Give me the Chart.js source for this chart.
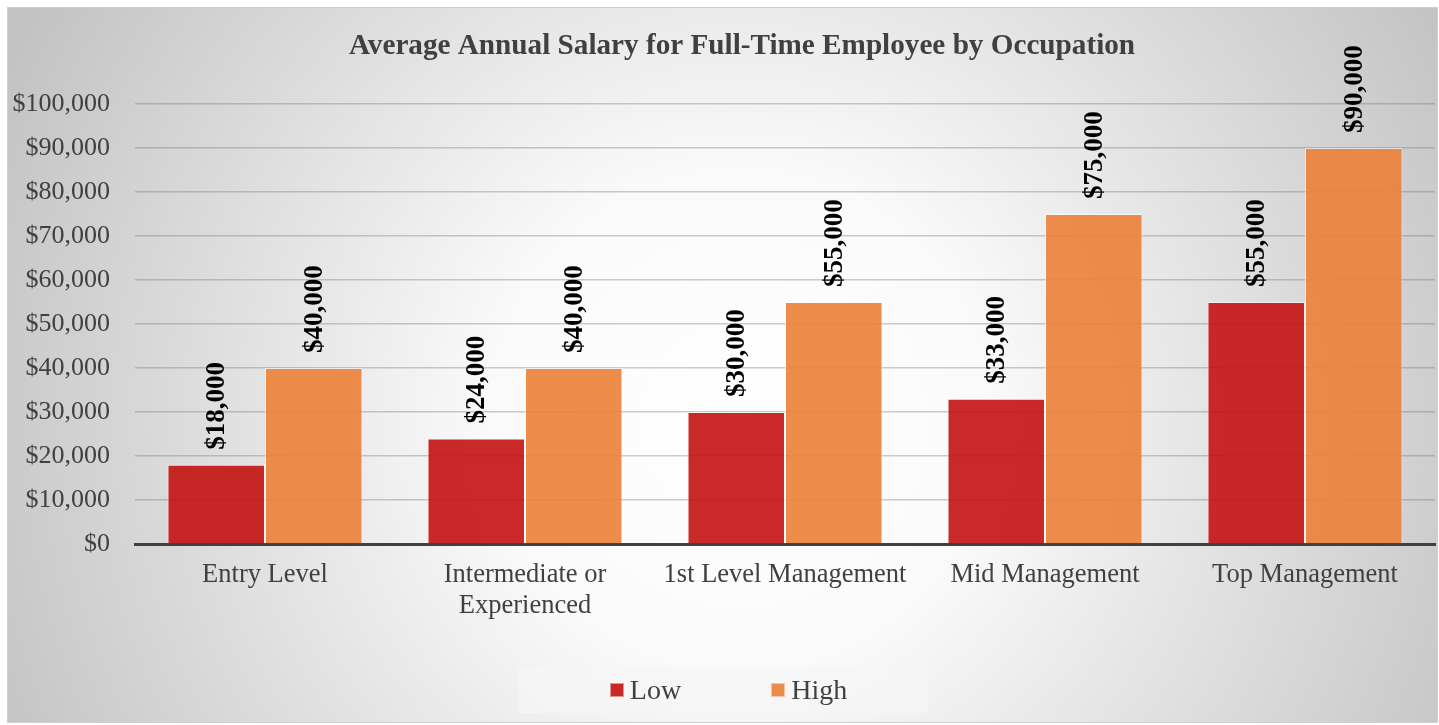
<!DOCTYPE html>
<html>
<head>
<meta charset="utf-8">
<script src="https://cdn.jsdelivr.net/npm/chart.js@4"></script>
<style>
    body { margin: 0; background: #ffffff; }
    #wrap { position: relative; width: 1439px; height: 725px; }
    #legend {
        position: absolute; left: 519px; top: 667px; width: 399px; height: 46px; padding-left: 10px;
        background: rgba(246, 246, 246, 0.75);
        display: flex; align-items: center; justify-content: center;
        font-family: "Liberation Serif", "Times New Roman", serif; font-size: 28px; color: #404040;
    }
    #legend .item { display: flex; align-items: center; }
    #legend .item + .item { margin-left: 90px; }
    #legend .box { width: 12px; height: 12px; margin-right: 6px; border: 1px solid rgba(255,255,255,0.5); }
</style>
</head>
<body>
<div id="wrap">
    <canvas id="myChart" width="1439" height="725"></canvas>
    <div id="legend"></div>
</div>
<script>
var categories = ['Entry Level', ['Intermediate or', 'Experienced'], '1st Level Management', 'Mid Management', 'Top Management'];
var lowValues = [18000, 24000, 30000, 33000, 55000];
var highValues = [40000, 40000, 55000, 75000, 90000];
var seriesNames = ['Low', 'High'];
var yTicksMax = 100000;
var yTicksStep = 10000;

var serif = '"Liberation Serif", "Times New Roman", serif';

function money(v) {
    return '$' + Number(v).toLocaleString('en-US');
}

// chart box with the radial grey background
var backgroundPlugin = {
    id: 'boxBackground',
    afterLayout: function(chart) {
        // title sits a bit right of the canvas centre
        if (chart.titleBlock) {
            chart.titleBlock.left = 49;
        }
    },
    beforeDraw: function(chart) {
        var c = chart.ctx;
        c.save();
        c.fillStyle = '#ffffff';
        c.fillRect(0, 0, chart.width, chart.height);
        var g = c.createRadialGradient(740, 420, 0, 740, 420, 820);
        g.addColorStop(0, '#ffffff');
        g.addColorStop(0.3, '#fafafa');
        g.addColorStop(1, '#c2c2c2');
        c.fillStyle = g;
        c.fillRect(7, 7, chart.width - 9, chart.height - 10);
        c.strokeStyle = '#cfcfcf';
        c.lineWidth = 1;
        c.strokeRect(7.5, 7.5, chart.width - 9, chart.height - 10);
        c.restore();
    }
};

// values written upright above each bar
var valueLabels = {
    id: 'valueLabels',
    afterDatasetsDraw: function(chart) {
        var c = chart.ctx;
        c.save();
        c.font = 'bold 27px ' + serif;
        c.fillStyle = '#000000';
        c.textAlign = 'left';
        c.textBaseline = 'middle';
        chart.data.datasets.forEach(function(ds, i) {
            chart.getDatasetMeta(i).data.forEach(function(bar, j) {
                c.save();
                c.translate(bar.x, bar.y - 15);
                c.rotate(-Math.PI / 2);
                c.fillText(money(ds.data[j]), 0, 1);
                c.restore();
            });
        });
        c.restore();
    }
};

var htmlLegend = {
    id: 'htmlLegend',
    afterUpdate: function(chart) {
        var box = document.getElementById('legend');
        box.innerHTML = '';
        chart.options.plugins.legend.labels.generateLabels(chart).forEach(function(item) {
            var el = document.createElement('div');
            el.className = 'item';
            var sw = document.createElement('span');
            sw.className = 'box';
            sw.style.background = item.fillStyle;
            var tx = document.createElement('span');
            tx.textContent = item.text;
            el.appendChild(sw);
            el.appendChild(tx);
            box.appendChild(el);
        });
    }
};

var ctx = document.getElementById('myChart');
var myChart = new Chart(ctx, {
    type: 'bar',
    data: {
        labels: categories,
        datasets: [{
            label: seriesNames[0],
            data: lowValues,
            backgroundColor: 'rgba(196, 18, 18, 0.9)',
            borderColor: 'rgba(255, 255, 255, 0.55)',
            borderWidth: 1
        }, {
            label: seriesNames[1],
            data: highValues,
            backgroundColor: 'rgba(235, 128, 55, 0.9)',
            borderColor: 'rgba(255, 255, 255, 0.55)',
            borderWidth: 1
        }]
    },
    options: {
        responsive: false,
        animation: false,
        categoryPercentage: 0.75,
        barPercentage: 1.0,
        layout: {
            padding: { left: 0, right: 4, top: 0, bottom: 0 }
        },
        plugins: {
            legend: { display: false },
            tooltip: { enabled: false },
            title: {
                display: true,
                text: 'Average Annual Salary for Full-Time Employee by Occupation',
                color: '#404040',
                font: { family: serif, size: 29.2, weight: 'bold', lineHeight: 1.2 },
                padding: { top: 29, bottom: 40 }
            }
        },
        scales: {
            x: {
                grid: { display: false, drawTicks: false },
                border: { display: true, color: '#404040', width: 3 },
                ticks: {
                    color: '#404040',
                    font: { family: serif, size: 26.5, lineHeight: 1.15 },
                    padding: 16,
                    maxRotation: 0,
                    autoSkip: false
                },
                afterFit: function(scale) {
                    scale.height = 181;
                }
            },
            y: {
                min: 0,
                max: yTicksMax,
                grid: { color: 'rgba(110, 110, 110, 0.35)', lineWidth: 1.5, drawTicks: false },
                border: { display: false },
                ticks: {
                    stepSize: yTicksStep,
                    color: '#404040',
                    font: { family: serif, size: 26 },
                    padding: 25,
                    callback: function(v) { return money(v); }
                },
                afterFit: function(scale) {
                    scale.width = 135;
                }
            }
        }
    },
    plugins: [backgroundPlugin, valueLabels, htmlLegend]
});
</script>
</body>
</html>
